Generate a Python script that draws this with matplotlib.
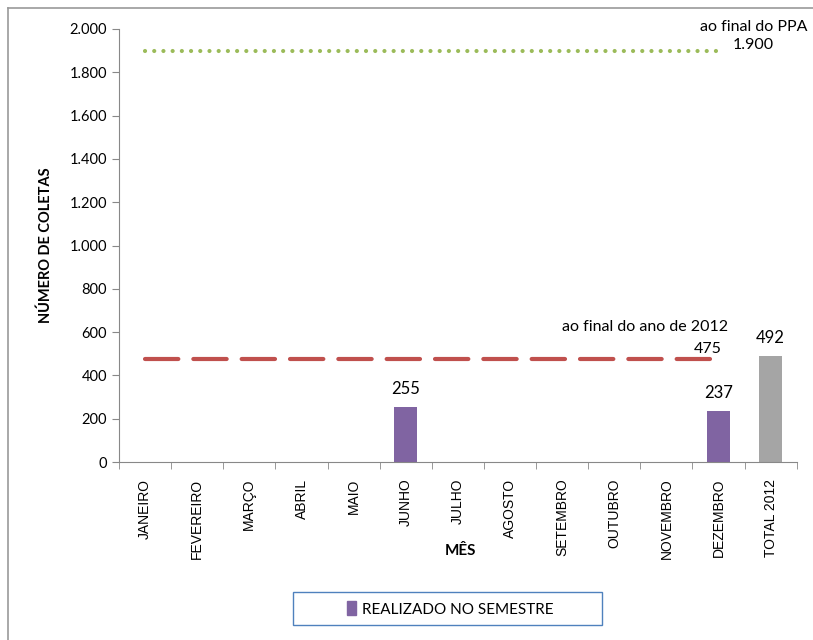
import matplotlib.pyplot as plt
import numpy as np
from matplotlib.lines import Line2D
from matplotlib.patches import Patch, Rectangle

plt.rcParams['font.family'] = ['Lato', 'DejaVu Sans']

# dados
categorias = ['JANEIRO', 'FEVEREIRO', 'MARÇO', 'ABRIL', 'MAIO', 'JUNHO', 'JULHO',
              'AGOSTO', 'SETEMBRO', 'OUTUBRO', 'NOVEMBRO', 'DEZEMBRO', 'TOTAL 2012']
realizado = [0, 0, 0, 0, 0, 255, 0, 0, 0, 0, 0, 237]
total_2012 = 492
meta_ano = [475] * 12
meta_ppa = [1900] * 12

fig = plt.figure(figsize=(8.13, 6.4), dpi=100)
ax = fig.add_axes([0.1464, 0.278, 0.8336, 0.6767])

x = np.arange(len(categorias))
meses_x = x[:12]

# barras
bw = 0.44
for i, v in enumerate(realizado):
    if v > 0:
        ax.bar(meses_x[i], v, width=bw, color='#8064A2', zorder=2)
        ax.text(meses_x[i], v + 45, str(v), ha='center', va='bottom', fontsize=12)
ax.bar(x[12], total_2012, width=bw, color='#A5A5A5', zorder=2)
ax.text(x[12], total_2012 + 45, str(total_2012), ha='center', va='bottom', fontsize=12)

# metas
ax.plot(meses_x, meta_ano, color='#C0504D', lw=3, linestyle=(0, (8, 3.6)),
        dash_capstyle='round', zorder=3)
ax.plot(meses_x, meta_ppa, color='#9BBB59', lw=3, linestyle=(0, (0.01, 2.2)),
        dash_capstyle='round', zorder=3)
ax.text(meses_x[-1] - 1.4, meta_ano[-1] + 148, 'ao final do ano de 2012', ha='center',
        va='center', fontsize=11.5)
ax.text(meses_x[-1] - 0.2, meta_ano[-1] + 47, str(meta_ano[-1]), ha='center',
        va='center', fontsize=11.5)
ax.text(meses_x[-1] + 0.67, meta_ppa[-1] + 109, 'ao final do PPA', ha='center',
        va='center', fontsize=11.5, clip_on=False)
ax.text(meses_x[-1] + 0.67, meta_ppa[-1] + 26, '1.900', ha='center',
        va='center', fontsize=11.5)

# eixos
ax.set_xlim(-0.5, 12.5)
ax.set_ylim(0, 2000)
ax.set_yticks(np.arange(0, 2001, 200))
ax.set_yticklabels([f'{v:,}'.replace(',', '.') for v in range(0, 2001, 200)], fontsize=10.5)
ax.set_xticks(x)
ax.set_xticklabels(categorias, rotation=90, fontsize=10, family=['Liberation Sans'])
ax.set_xticks(np.arange(-0.5, 13, 1), minor=True)
ax.tick_params(axis='x', which='major', length=0, pad=12)
ax.tick_params(axis='x', which='minor', length=5, color='#888888')
ax.tick_params(axis='y', length=5, color='#888888')
for s in ['top', 'right']:
    ax.spines[s].set_visible(False)
for s in ['left', 'bottom']:
    ax.spines[s].set_color('#888888')

ax.set_ylabel('NÚMERO DE COLETAS', fontsize=10.5, fontweight='bold', labelpad=12)
fig.text(460 / 813, 1 - 551 / 640, 'MÊS', ha='center', va='center', fontsize=11,
         fontweight='bold')

# legenda
fig.add_artist(Rectangle((293 / 813, 1 - 625 / 640), 309 / 813, 33 / 640,
                         transform=fig.transFigure, fill=False,
                         edgecolor='#4F81BD', lw=1.0))
fig.legend(handles=[Patch(color='#8064A2', label='REALIZADO NO SEMESTRE')],
           loc='center', bbox_to_anchor=(450 / 813, 1 - 609 / 640), fontsize=11,
           frameon=False, handlelength=0.6, handleheight=1.0, handletextpad=0.4)

# borda externa
fig.add_artist(Line2D([8 / 813, 8 / 813], [0, 1 - 8 / 640], color='#999999', lw=1.2))
fig.add_artist(Line2D([8 / 813, 1], [1 - 8 / 640, 1 - 8 / 640], color='#999999', lw=1.2))

fig.savefig('out.png', dpi=100)
